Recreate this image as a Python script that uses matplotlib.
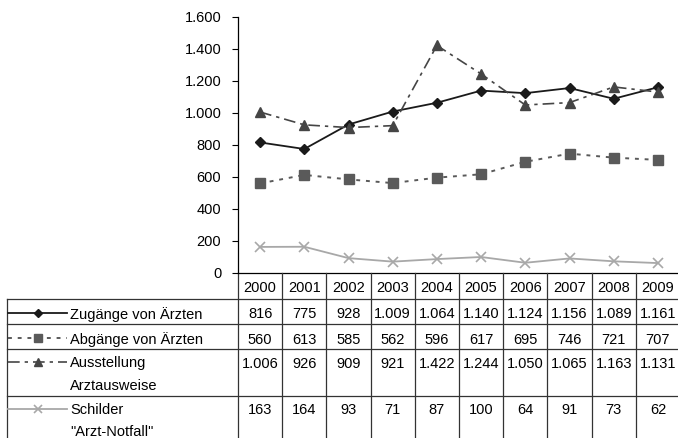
import matplotlib
matplotlib.use("Agg")
import matplotlib.pyplot as plt
from matplotlib.ticker import FuncFormatter

plt.rcParams['font.family'] = ['Liberation Sans', 'DejaVu Sans']

years = ['2000', '2001', '2002', '2003', '2004', '2005', '2006', '2007', '2008', '2009']
zugaenge = [816, 775, 928, 1009, 1064, 1140, 1124, 1156, 1089, 1161]
abgaenge = [560, 613, 585, 562, 596, 617, 695, 746, 721, 707]
ausweise = [1006, 926, 909, 921, 1422, 1244, 1050, 1065, 1163, 1131]
schilder = [163, 164, 93, 71, 87, 100, 64, 91, 73, 62]

series_labels = [['Zugänge von Ärzten'], ['Abgänge von Ärzten'],
                 ['Ausstellung', 'Arztausweise'], ['Schilder', '"Arzt-Notfall"']]
series_values = [zugaenge, abgaenge, ausweise, schilder]
styles = [
    dict(color='#1a1a1a', linestyle='-', linewidth=1.3, marker='D', markersize=5.5),
    dict(color='#5a5a5a', linestyle=(0, (2, 3)), linewidth=1.4, marker='s', markersize=7.5),
    dict(color='#454545', linestyle=(0, (7, 3, 2, 3)), linewidth=1.2, marker='^', markersize=7),
    dict(color='#a8a8a8', linestyle='-', linewidth=1.3, marker='x', markersize=7, markeredgewidth=1.2),
]


def fmt(v):
    return f"{v:,}".replace(",", ".")


W, H = 678, 438
fig = plt.figure(figsize=(W / 100, H / 100), dpi=100)

# plot area in pixel layout
left, right, top, bottom = 238, 680, 17, 273
ax = fig.add_axes([left / W, (H - bottom) / H, (right - left) / W, (bottom - top) / H])
x = list(range(len(years)))
for vals, st in zip(series_values, styles):
    ax.plot(x, vals, **st)
ax.set_xlim(-0.5, len(years) - 0.5)
ax.set_ylim(0, 1600)
ax.set_yticks(range(0, 1601, 200))
ax.yaxis.set_major_formatter(FuncFormatter(lambda v, p: fmt(int(v))))
ax.tick_params(axis='y', direction='out', length=4, width=0.8, labelsize=10.5, pad=8)
ax.set_xticks([])
for s in ['top', 'right', 'bottom']:
    ax.spines[s].set_visible(False)
ax.spines['left'].set_linewidth(0.9)
ax.patch.set_alpha(0)

# data table drawn below in pixel coords
tb = fig.add_axes([0, 0, 1, 1], zorder=-1)
tb.set_xlim(0, W)
tb.set_ylim(H, 0)
tb.axis('off')
colw = (right - left) / len(years)
lc = '#333333'
row_lines = [299, 324, 349, 396]
tb.plot([left, right], [bottom, bottom], color='black', lw=0.9)
for yl in row_lines:
    tb.plot([7, right], [yl, yl], color=lc, lw=0.9)
tb.plot([7, 7], [row_lines[0], H], color=lc, lw=0.9)
for k in range(len(years) + 1):
    xe = left + k * colw
    tb.plot([xe, xe], [bottom, H], color=lc, lw=0.9)

fs = 10.5
for k, yr in enumerate(years):
    tb.text(left + (k + 0.5) * colw, 287, yr, ha='center', va='center_baseline', fontsize=fs)

text_y = [[313], [338], [362, 385], [409, 431]]
for lab, vals, st, ty in zip(series_labels, series_values, styles, text_y):
    tb.plot([8, 67], [ty[0], ty[0]], color=st['color'], linestyle=st['linestyle'],
            linewidth=st['linewidth'])
    tb.plot([38], [ty[0]], color=st['color'], marker=st['marker'],
            markersize=st['markersize'] * 0.78, markeredgewidth=st.get('markeredgewidth', 1.0))
    for line, yy in zip(lab, ty):
        tb.text(70, yy, line, ha='left', va='center_baseline', fontsize=fs)
    for k, v in enumerate(vals):
        tb.text(left + (k + 0.5) * colw, ty[0], fmt(v), ha='center', va='center_baseline', fontsize=fs)

fig.savefig('out.png', dpi=100)
